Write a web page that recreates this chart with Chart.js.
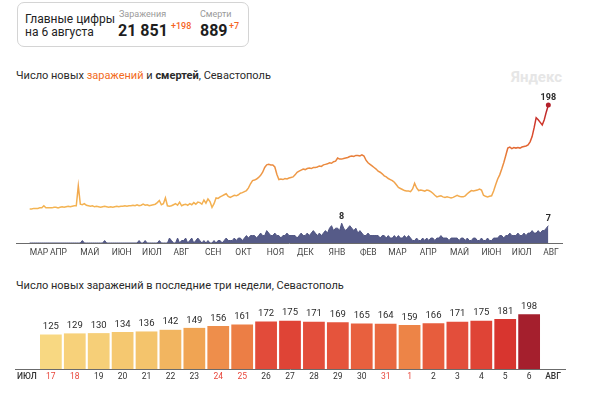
<!DOCTYPE html>
<html lang="ru">
<head>
<meta charset="utf-8">
<title>Севастополь</title>
<script src="https://cdn.jsdelivr.net/npm/chart.js@4.4.1/dist/chart.umd.min.js"></script>
<style>
  body { margin: 0; background: #fff; font-family: Roboto, "Noto Sans", sans-serif; color: #222; }
  #page { position: relative; width: 600px; height: 394px; overflow: hidden; }
  .abs { position: absolute; white-space: nowrap; }
  #box { left: 17px; top: 2px; width: 230px; height: 43px; border: 1px solid #d4d4d4; border-radius: 7px; }
  .lbl { font-size: 9px; line-height: 10px; color: #9a9a9a; }
  .big { font-size: 16px; line-height: 18px; font-weight: 700; color: #1e1e1e; }
  .plus { font-size: 9px; line-height: 10px; font-weight: 500; color: #f5641e; }
  .title { font-size: 11px; line-height: 14px; color: #2a2a2a; }
  .title .or { color: #f26b1d; }
  #ya { left: 511px; top: 69px; font-size: 15px; line-height: 16px; font-weight: 700; color: #e6e6e6; }
  canvas { position: absolute; left: 0; }
</style>
</head>
<body>
<div id="page">
  <div class="abs" id="box"></div>
  <div class="abs" style="left:25px;top:13px;font-size:12px;line-height:13px;color:#222">Главные цифры<br>на 6 августа</div>
  <div class="abs lbl" style="left:119px;top:9px">Заражения</div>
  <div class="abs big" style="left:118px;top:22px">21 851</div>
  <div class="abs plus" style="left:171px;top:21px">+198</div>
  <div class="abs lbl" style="left:200px;top:9px">Смерти</div>
  <div class="abs big" style="left:200px;top:22px">889</div>
  <div class="abs plus" style="left:229px;top:21px">+7</div>

  <div class="abs title" style="left:16px;top:69px">Число новых <span class="or">заражений</span> и <b>смертей</b>, Севастополь</div>
  <div class="abs" id="ya">Яндекс</div>
  <canvas id="dynamics" width="600" height="175" style="top:88px;width:600px;height:175px"></canvas>

  <div class="abs title" style="left:16px;top:279px">Число новых заражений в последние три недели, Севастополь</div>
  <canvas id="weeks" width="600" height="99" style="top:295px;width:600px;height:99px"></canvas>
</div>

<script>
// ежедневные данные, точка каждые 2 дня начиная с seriesStart
const seriesStart = '2020-03-12';
const stepDays = 2;

const dailyCases = [
  0, 0, 1, 1, 1, 2, 2, 6, 2, 2,
  2, 2, 3, 3, 2, 3, 4, 3, 4, 5,
  4, 5, 6, 6, 44, 9, 8, 10, 7, 6,
  5, 6, 4, 5, 4, 3, 4, 5, 4, 3,
  4, 3, 4, 5, 4, 5, 5, 6, 5, 6,
  6, 7, 6, 8, 6, 7, 9, 7, 8, 6,
  7, 8, 9, 12, 16, 8, 10, 21, 6, 5,
  6, 8, 10, 7, 13, 6, 8, 9, 7, 10,
  8, 12, 9, 13, 12, 9, 17, 11, 19, 14,
  3, 10, 21, 20, 23, 25, 27, 29, 24, 22,
  24, 26, 25, 27, 30, 31, 33, 35, 40, 48,
  54, 55, 57, 60, 64, 70, 79, 84, 85, 84,
  84, 80, 66, 56, 57, 56, 58, 57, 59, 60,
  61, 65, 70, 72, 74, 76, 75, 77, 78, 77,
  79, 79, 80, 82, 81, 84, 85, 86, 88, 87,
  90, 91, 97, 95, 95, 96, 97, 98, 100, 101,
  100, 102, 102, 101, 103, 101, 93, 88, 85, 82,
  79, 76, 72, 70, 67, 63, 61, 58, 56, 54,
  51, 46, 41, 39, 37, 35, 34, 34, 33, 38,
  49, 40, 35, 36, 35, 34, 36, 35, 33, 30,
  26, 23, 24, 25, 23, 22, 23, 22, 21, 22,
  24, 26, 24, 23, 23, 25, 29, 32, 35, 34,
  35, 36, 38, 36, 26, 24, 23, 24, 25, 34,
  46, 57, 65, 76, 88, 102, 116, 118, 115, 117,
  116, 117, 116, 118, 119, 120, 122, 128, 138, 155,
  174, 170, 165, 160, 170, 185, 198
];

const dailyDeaths = [
  0, 0, 0, 0, 0, 0, 0, 0, 0, 0,
  0, 0, 0, 0, 0, 0, 0, 0, 0, 0,
  0, 0, 0, 0, 0, 0, 1, 0, 0, 0,
  0, 0, 0, 0, 0, 0, 0, 1, 0, 0,
  0, 0, 0, 0, 0, 0, 0, 0, 0, 0,
  0, 0, 0, 0, 1, 0, 0, 1, 0, 0,
  0, 0, 0, 0, 1, 0, 0, 0, 0, 2,
  1, 0, 0, 2, 0, 1, 1, 2, 0, 1,
  2, 0, 1, 2, 1, 0, 1, 0, 1, 0,
  0, 1, 0, 1, 1, 0, 1, 2, 1, 1,
  1, 2, 1, 2, 2, 1, 2, 3, 2, 3,
  3, 3, 2, 3, 4, 3, 3, 5, 4, 3,
  3, 4, 3, 3, 2, 3, 3, 4, 3, 3,
  3, 3, 2, 3, 4, 3, 3, 4, 3, 4,
  5, 4, 3, 4, 3, 4, 5, 4, 6, 7,
  5, 6, 6, 5, 8, 6, 5, 6, 7, 6,
  5, 6, 4, 5, 4, 3, 3, 4, 3, 3,
  3, 3, 3, 2, 3, 3, 2, 3, 2, 2,
  3, 2, 3, 2, 2, 3, 2, 3, 2, 1,
  1, 2, 1, 1, 2, 1, 2, 1, 2, 2,
  1, 2, 2, 3, 2, 2, 2, 1, 2, 2,
  2, 2, 1, 2, 2, 1, 2, 1, 1, 2,
  2, 1, 1, 2, 1, 1, 2, 1, 1, 2,
  2, 2, 3, 3, 2, 3, 3, 4, 3, 3,
  3, 4, 3, 3, 4, 3, 4, 4, 5, 4,
  4, 5, 4, 5, 5, 6, 7
];

const monthTickDates = ['2020-03-12', '2020-04-01', '2020-05-01', '2020-06-01', '2020-07-01', '2020-08-01',
  '2020-09-01', '2020-10-01', '2020-11-01', '2020-12-01', '2021-01-01', '2021-02-01', '2021-03-01',
  '2021-04-01', '2021-05-01', '2021-06-01', '2021-07-01', '2021-08-01'];
const monthTickLabels = ['МАР', 'АПР', 'МАЙ', 'ИЮН', 'ИЮЛ', 'АВГ', 'СЕН', 'ОКТ', 'НОЯ', 'ДЕК',
  'ЯНВ', 'ФЕВ', 'МАР', 'АПР', 'МАЙ', 'ИЮН', 'ИЮЛ', 'АВГ'];

// последние три недели
const weekStart = '2021-07-17';
const weekDayLabels = ['17', '18', '19', '20', '21', '22', '23', '24', '25', '26', '27',
  '28', '29', '30', '31', '1', '2', '3', '4', '5', '6'];
const weekCases = [125, 129, 130, 134, 136, 142, 149, 156, 161, 172, 175, 171, 169, 165, 164, 159, 166, 171, 175, 181, 198];
const weekEdgeLabels = ['ИЮЛ', 'АВГ'];

const DAY = 86400000;
function toUTC(s) {
  const p = s.split('-').map(Number);
  return Date.UTC(p[0], p[1] - 1, p[2]);
}
function dayOf(s) {
  return Math.round((toUTC(s) - toUTC('2020-03-01')) / DAY);
}

const firstDay = dayOf(seriesStart);
const casePoints = dailyCases.map((v, i) => ({ x: firstDay + i * stepDays, y: v }));
const deathPoints = dailyDeaths.map((v, i) => ({ x: firstDay + i * stepDays, y: v }));
const lastDay = casePoints[casePoints.length - 1].x;
const tickDays = monthTickDates.map(dayOf);

function lineGradient(context) {
  const chart = context.chart;
  if (!chart.chartArea) return '#f0a04b';
  const y = chart.scales.y;
  const g = chart.ctx.createLinearGradient(0, y.getPixelForValue(0), 0, y.getPixelForValue(198));
  g.addColorStop(0, '#f4b553');
  g.addColorStop(0.25, '#f1a34c');
  g.addColorStop(0.5, '#e8803a');
  g.addColorStop(0.62, '#e26434');
  g.addColorStop(0.78, '#d53d2b');
  g.addColorStop(1, '#b51f2a');
  return g;
}

const markLabels = {
  id: 'markLabels',
  afterDatasetsDraw(chart) {
    const ctx = chart.ctx;
    ctx.save();
    ctx.fillStyle = '#2b2b2b';
    ctx.font = '700 9px Roboto';
    ctx.textAlign = 'center';
    ctx.textBaseline = 'bottom';
    const caseEls = chart.getDatasetMeta(0).data;
    const lastCase = caseEls[caseEls.length - 1];
    ctx.fillText(String(dailyCases[dailyCases.length - 1]), lastCase.x, lastCase.y - 3);
    const deathEls = chart.getDatasetMeta(1).data;
    const maxIdx = dailyDeaths.indexOf(Math.max(...dailyDeaths));
    ctx.fillText(String(dailyDeaths[maxIdx]), deathEls[maxIdx].x, deathEls[maxIdx].y - 2);
    const lastDeath = deathEls[deathEls.length - 1];
    ctx.fillText(String(dailyDeaths[dailyDeaths.length - 1]), lastDeath.x, lastDeath.y - 2);
    ctx.restore();
  }
};

new Chart(document.getElementById('dynamics'), {
  type: 'line',
  data: {
    datasets: [{
      data: casePoints,
      yAxisID: 'y',
      borderColor: lineGradient,
      borderWidth: 1.5,
      tension: 0,
      pointRadius: ctx => (ctx.dataIndex === casePoints.length - 1 ? 2.5 : 0),
      pointBackgroundColor: '#b3202a',
      pointBorderWidth: 0,
      fill: false
    }, {
      data: deathPoints,
      yAxisID: 'y2',
      borderColor: '#4f5482',
      backgroundColor: '#565b88',
      borderWidth: 1,
      tension: 0,
      pointRadius: 0,
      fill: 'origin'
    }]
  },
  options: {
    responsive: false,
    animation: false,
    layout: { padding: { left: 16, right: 38, top: 2, bottom: 0 } },
    plugins: { legend: { display: false }, tooltip: { enabled: false } },
    scales: {
      x: {
        type: 'linear',
        min: firstDay - 13.5,
        max: lastDay + 13.5,
        grid: { display: false, drawTicks: false },
        border: { display: true, color: '#6b6b6b', width: 1 },
        afterBuildTicks: s => { s.ticks = tickDays.map(v => ({ value: v })); },
        afterFit: s => { s.height = 20; },
        ticks: {
          autoSkip: false,
          maxRotation: 0,
          align: 'start',
          padding: 5,
          color: '#444',
          font: { family: 'Roboto', size: 8.5 },
          callback: (v, i) => monthTickLabels[i]
        }
      },
      y: { display: false, min: -65, max: 223 },
      y2: { display: false, min: 0, max: 61 }
    }
  },
  plugins: [markLabels]
});

// цвет столбика по значению
const barStops = [[125, '#f8d882'], [136, '#f4c46c'], [149, '#f0a453'], [161, '#ec7e45'],
  [165, '#e8603e'], [172, '#e24b3a'], [181, '#d8352f'], [198, '#a51f2d']];
function hex(c) { return [1, 3, 5].map(i => parseInt(c.slice(i, i + 2), 16)); }
function barColor(v) {
  if (v == null) return 'transparent';
  for (let i = 1; i < barStops.length; i++) {
    if (v <= barStops[i][0]) {
      const [v0, c0] = barStops[i - 1];
      const [v1, c1] = barStops[i];
      const t = Math.max(0, (v - v0) / (v1 - v0));
      const a = hex(c0), b = hex(c1);
      return 'rgb(' + a.map((x, k) => Math.round(x + (b[k] - x) * t)).join(',') + ')';
    }
  }
  return barStops[barStops.length - 1][1];
}

const weekLabels = [weekEdgeLabels[0], ...weekDayLabels, weekEdgeLabels[1]];
const weekData = [null, ...weekCases, null];
function isWeekend(i) {
  if (i === 0 || i === weekLabels.length - 1) return false;
  const d = new Date(toUTC(weekStart) + (i - 1) * DAY).getUTCDay();
  return d === 0 || d === 6;
}

const barValues = {
  id: 'barValues',
  afterDatasetsDraw(chart) {
    const ctx = chart.ctx;
    ctx.save();
    ctx.fillStyle = '#2b2b2b';
    ctx.font = '9.5px Roboto';
    ctx.textAlign = 'center';
    ctx.textBaseline = 'bottom';
    chart.getDatasetMeta(0).data.forEach((el, i) => {
      if (weekData[i] == null) return;
      ctx.fillText(String(weekData[i]), el.x, el.y - 3);
    });
    ctx.restore();
  }
};

new Chart(document.getElementById('weeks'), {
  type: 'bar',
  data: {
    labels: weekLabels,
    datasets: [{
      data: weekData,
      backgroundColor: ctx => barColor(ctx.raw),
      barPercentage: 0.91,
      categoryPercentage: 1
    }]
  },
  options: {
    responsive: false,
    animation: false,
    layout: { padding: { left: 15, right: 35, top: 5, bottom: 9 } },
    plugins: { legend: { display: false }, tooltip: { enabled: false } },
    scales: {
      x: {
        grid: { display: false, drawTicks: false },
        border: { display: true, color: '#6b6b6b', width: 1 },
        afterFit: s => { s.height = 16; },
        ticks: {
          autoSkip: false,
          maxRotation: 0,
          padding: 3,
          color: ctx => (isWeekend(ctx.index) ? '#e8473c' : '#333'),
          font: ctx => ({ family: 'Roboto', size: 8.5, weight: (ctx.index === 0 || ctx.index === weekLabels.length - 1) ? '500' : '400' })
        }
      },
      y: { display: false, min: 0, max: 250 }
    }
  },
  plugins: [barValues]
});
</script>
</body>
</html>
